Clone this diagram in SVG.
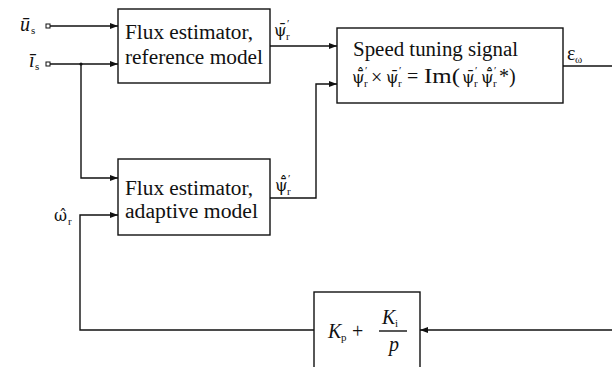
<svg xmlns="http://www.w3.org/2000/svg" width="612" height="367" viewBox="0 0 612 367">
<style>
.box{fill:#fff;stroke:#111;stroke-width:1.4}
.ln{fill:none;stroke:#111;stroke-width:1.4}
.t{font-family:"Liberation Serif","DejaVu Serif",serif;font-size:20px;fill:#111}
.g{font-family:"DejaVu Serif",serif;font-size:16px;fill:#111}
.it{font-style:italic}
.s{font-family:"Liberation Serif","DejaVu Serif",serif;font-size:11px;fill:#111}
</style>
<defs>
<marker id="arr" markerWidth="8" markerHeight="6" refX="8" refY="3" orient="auto" markerUnits="userSpaceOnUse">
<path d="M0,0 L8,3 L0,6 z" fill="#111"/>
</marker>
</defs>
<rect width="612" height="367" fill="#fff"/>
<g id="connectors">
<path class="ln" d="M50,26 H118" marker-end="url(#arr)"/>
<path class="ln" d="M50,64 H118" marker-end="url(#arr)"/>
<path class="ln" d="M81,64 V178 H118" marker-end="url(#arr)"/>
<path class="ln" d="M270,46 H337" marker-end="url(#arr)"/>
<path class="ln" d="M270,198 H316 V84 H337" marker-end="url(#arr)"/>
<path class="ln" d="M563,66 H612"/>
<path class="ln" d="M612,330 H420" marker-end="url(#arr)"/>
<path class="ln" d="M314,330 H80 V215 H118" marker-end="url(#arr)"/>
<circle cx="81" cy="64" r="1.6" fill="#111"/>
<rect x="46" y="24" width="4" height="4" fill="#fff" stroke="#111" stroke-width="1"/>
<rect x="46" y="62" width="4" height="4" fill="#fff" stroke="#111" stroke-width="1"/>
</g>
<g id="input-us">
<text class="t it" x="20" y="31">ū</text><text class="s" x="31" y="34">s</text>
</g>
<g id="input-is">
<text class="t it" x="29" y="67">ī</text><text class="s" x="35" y="70">s</text>
</g>
<g id="label-wr">
<text class="g" x="54" y="221">ω̂</text><text class="s" x="68" y="225">r</text>
</g>
<g id="ref-model">
<rect class="box" x="118" y="9" width="152" height="74"/>
<text class="t" x="125" y="39" textLength="128" lengthAdjust="spacingAndGlyphs">Flux estimator,</text>
<text class="t" x="125" y="64" textLength="138" lengthAdjust="spacingAndGlyphs">reference model</text>
<text class="g" x="274" y="36">ψ̄</text><text class="s" x="286" y="40">r</text><text class="s" x="287" y="27">′</text>
</g>
<g id="adaptive-model">
<rect class="box" x="118" y="159" width="152" height="76"/>
<text class="t" x="125" y="195" textLength="128" lengthAdjust="spacingAndGlyphs">Flux estimator,</text>
<text class="t" x="125" y="218" textLength="133" lengthAdjust="spacingAndGlyphs">adaptive model</text>
<text class="g" x="275" y="191">ψ̄̂</text><text class="s" x="287" y="195">r</text><text class="s" x="288" y="182">′</text>
</g>
<g id="speed-tuning">
<rect class="box" x="337" y="28" width="226" height="75"/>
<text class="t" x="353" y="56" textLength="165" lengthAdjust="spacingAndGlyphs">Speed tuning signal</text>
<text class="g" x="352" y="83">ψ̄̂</text><text class="s" x="364" y="87">r</text><text class="s" x="365" y="74">′</text>
<text class="t" x="371" y="84" font-size="24">×</text>
<text class="g" x="386" y="83">ψ̄</text><text class="s" x="398" y="87">r</text><text class="s" x="399" y="74">′</text>
<text class="t" x="407" y="83">=</text>
<text class="t" x="424" y="83" textLength="36" lengthAdjust="spacingAndGlyphs">Im(</text>
<text class="g" x="462" y="83">ψ̄</text><text class="s" x="474" y="87">r</text><text class="s" x="475" y="74">′</text>
<text class="g" x="481" y="83">ψ̄̂</text><text class="s" x="493" y="87">r</text><text class="s" x="494" y="74">′</text>
<text class="t" x="499" y="83">*)</text>
<text class="t" x="567" y="60">ε</text><text class="s" x="575" y="63">ω</text>
</g>
<g id="pi-controller">
<rect class="box" x="314" y="292" width="106" height="90"/>
<text class="t it" x="328" y="338">K</text><text class="s" x="341" y="341">p</text>
<text class="t" x="352" y="338">+</text>
<text class="t it" x="382" y="324">K</text><text class="s" x="395" y="327">i</text>
<line class="ln" x1="379" y1="331" x2="407" y2="331" stroke-width="1"/>
<text class="t it" x="389" y="351">p</text>
</g>
</svg>
